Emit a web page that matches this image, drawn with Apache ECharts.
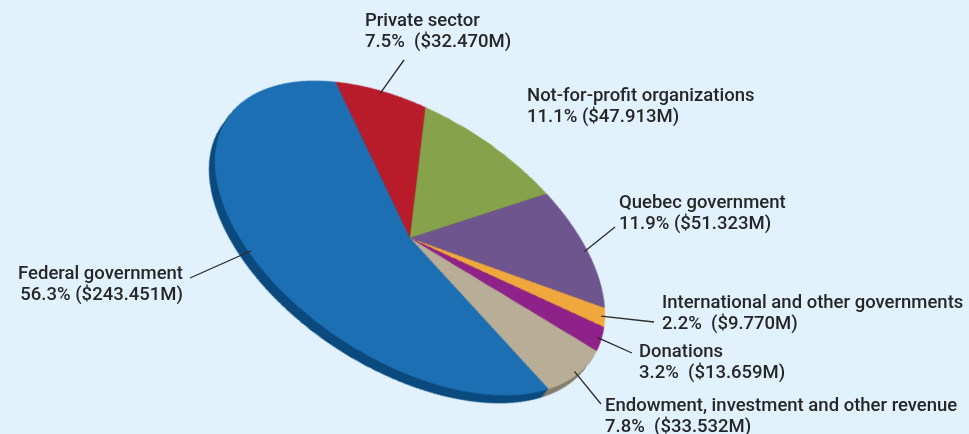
<!DOCTYPE html>
<html><head><meta charset="utf-8">
<script src="https://cdn.jsdelivr.net/npm/echarts@6/dist/echarts.min.js"></script>
<style>
html,body{margin:0;padding:0;background:#e1f2fc;}
#wrap{position:relative;width:969px;height:434px;overflow:hidden;background:#e1f2fc;}
#pie{position:absolute;width:1000px;height:1000px;}
#main{position:absolute;left:0;top:0;width:969px;height:434px;}
</style></head><body>
<div id="wrap"><div id="pie"></div><div id="main"></div></div>
<script>
// ---- data ----
const categories = ['Private sector','Not-for-profit organizations','Quebec government','International and other governments','Donations','Endowment, investment and other revenue','Federal government'];
const percents = [7.5, 11.1, 11.9, 2.2, 3.2, 7.8, 56.3];
const amounts = [32.470, 47.913, 51.323, 9.770, 13.659, 33.532, 243.451];
const amountGap = ['  ', ' ', ' ', '  ', '  ', '  ', ' '];

// ---- styles / layout ----
const topColors = ['#b81c2b','#86a24a','#6e558e','#f0a73b','#8e2289','#b8ad97','#1d6fb3'];
const rimColors = ['#7c121d','#5a6c32','#4a3a60','#a06c22','#5c1659','#857d6d','#0b4a7e'];
const CX = 410, CY = 238, R = 218.6, K = 0.561, TILT = 33, START = 132.5;
const RIM = [-6, 8];
const labelLayout = [
  {x:365, y:10.5, align:'left', end:[404,60]},
  {x:527, y:85.5, align:'left', end:null},
  {x:619, y:192.5, align:'left', end:[615,227]},
  {x:662, y:292.8, align:'left', end:[654,322]},
  {x:639, y:341.5, align:'left', end:[632,353]},
  {x:605, y:395.8, align:'left', end:[601,404]},
  {x:183, y:264.2, align:'right', end:[190,278]}
];

const pieDiv = document.getElementById('pie');
pieDiv.style.left = (CX - 500) + 'px';
pieDiv.style.top = (CY - 500) + 'px';
pieDiv.style.transformOrigin = '500px 500px';
pieDiv.style.transform = 'rotate(' + TILT + 'deg) scale(1,' + K + ')';

const th = TILT * Math.PI / 180, c = Math.cos(th), s = Math.sin(th);
// screen offset -> pre-transform offset
const ox = RIM[0] * c + RIM[1] * s;
const oy = (-RIM[0] * s + RIM[1] * c) / K;

function pieSeries(colors, t, z) {
  return {
    type: 'pie', radius: [0, R], center: [500 + ox * t, 500 + oy * t],
    startAngle: START, clockwise: true, silent: true, z: z,
    label: {show: false}, labelLine: {show: false},
    emphasis: {disabled: true},
    data: categories.map((n, i) => ({name: n, value: amounts[i], itemStyle: {color: colors[i]}}))
  };
}
const series = [];
[1, 0.8, 0.6, 0.4, 0.2].forEach(t => series.push(pieSeries(rimColors, t, 1)));
series.push(pieSeries(topColors, 0, 2));

const pieChart = echarts.init(pieDiv, null, {renderer: 'canvas'});
pieChart.setOption({animation: false, series: series});

// ---- labels ----
function proj(angDeg, r) {
  const a = angDeg * Math.PI / 180;
  const x = r * Math.cos(a), y = -r * Math.sin(a) * K;
  return [CX + x * c - y * s, CY + x * s + y * c];
}
const total = amounts.reduce((p, v) => p + v, 0);
const graphics = [];
let cum = 0;
categories.forEach((name, i) => {
  const mid = START - (cum + amounts[i] / 2) / total * 360;
  cum += amounts[i];
  const L = labelLayout[i];
  graphics.push({
    type: 'text', x: L.x, y: L.y, z: 10,
    style: {
      text: name + '\n' + percents[i].toFixed(1) + '%' + amountGap[i] + '($' + amounts[i].toFixed(3) + 'M)',
      fill: '#262626', fontSize: 18.5, fontFamily: 'Roboto, "DejaVu Sans", sans-serif', fontWeight: 500,
      align: L.align, verticalAlign: 'top', lineHeight: 21
    }
  });
  if (L.end) {
    const p = proj(mid, R * 0.98);
    graphics.push({
      type: 'line', z: 9,
      shape: {x1: p[0], y1: p[1], x2: L.end[0], y2: L.end[1]},
      style: {stroke: '#2a2a2a', lineWidth: 1.3}
    });
  }
});
const main = echarts.init(document.getElementById('main'), null, {renderer: 'canvas'});
main.setOption({animation: false, graphic: graphics});
</script>
</body></html>
